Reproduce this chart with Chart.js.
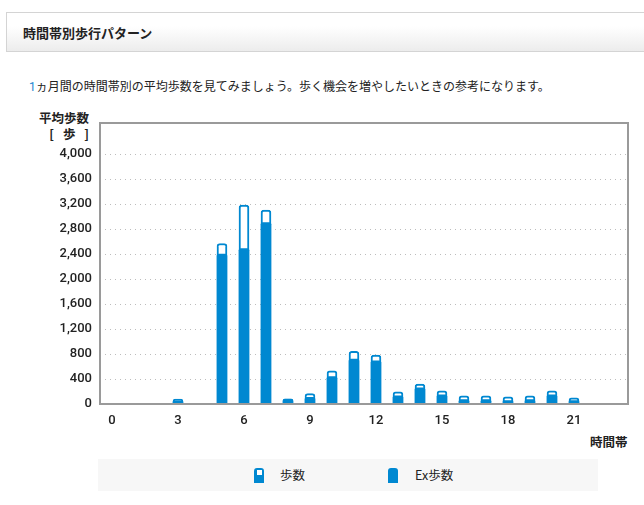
<!DOCTYPE html>
<html lang="ja">
<head>
<meta charset="utf-8">
<title>時間帯別歩行パターン</title>
<script src="https://cdn.jsdelivr.net/npm/chart.js@4.4.1/dist/chart.umd.min.js"></script>
<style>
  html, body { margin: 0; padding: 0; background: #fff; }
  body { width: 644px; height: 505px; position: relative; overflow: hidden;
         font-family: "Noto Sans CJK JP", "Noto Sans", sans-serif; color: #222; }
  .cabecera { position: absolute; left: 6px; top: 12px; width: 660px; height: 38px;
              border: 1px solid #d4d4d4; background: linear-gradient(#ffffff 35%, #ececec); }
  .cabecera h2 { margin: 0; position: absolute; left: 16px; top: 10px; font-size: 13px;
                 font-weight: bold; line-height: 20px; color: #222; }
  .descripcion { position: absolute; left: 29px; top: 77px; font-size: 12px; line-height: 18px; }
  .descripcion .num { color: #1c86d0; font-family: Roboto, sans-serif; }
  .tituloY { position: absolute; right: 555px; top: 110px; font-size: 12.5px; font-weight: bold;
             line-height: 16px; text-align: right; }
  .tituloY span { letter-spacing: 3px; }
  .tituloX { position: absolute; left: 590px; top: 432px; font-size: 12.5px; font-weight: bold; }
  .leyenda { position: absolute; left: 98px; top: 459px; width: 500px; height: 32px; background: #f7f7f7; }
  .item { position: absolute; top: 0; height: 32px; line-height: 32px; font-size: 12.5px; }
  .icono { position: absolute; top: 9px; width: 10px; height: 15px; background: #0088d1;
           border-radius: 3px 3px 0 0; }
  .icono.pasos::after { content: ""; position: absolute; left: 2.5px; top: 2px; width: 5px; height: 5px; background: #fff; }
  canvas { position: absolute; left: 0; top: 0; }
</style>
</head>
<body>
<div class="cabecera"><h2>時間帯別歩行パターン</h2></div>
<div class="descripcion"><span class="num">1</span>ヵ月間の時間帯別の平均歩数を見てみましょう。歩く機会を増やしたいときの参考になります。</div>
<div class="tituloY">平均歩数<br><span>[ 歩 </span>]</div>
<div class="tituloX">時間帯</div>
<div class="leyenda">
  <div class="icono pasos" style="left:156px"></div>
  <div class="item" style="left:182px">歩数</div>
  <div class="icono" style="left:290px"></div>
  <div class="item" style="left:317px">Ex歩数</div>
</div>
<canvas id="graficoPasos" width="644" height="505"></canvas>
<script>
// Datos por hora (0〜23時)
const horas = [0,1,2,3,4,5,6,7,8,9,10,11,12,13,14,15,16,17,18,19,20,21,22,23];
const pasos = [0,0,0,80,0,2570,3185,3105,80,165,530,845,785,195,320,210,130,130,115,130,210,100,0,0];     // 歩数
const pasosEx = [0,0,0,45,0,2400,2490,2905,78,105,440,720,690,130,260,145,70,70,55,70,145,55,0,0];    // Ex歩数
const ticksX = [0,3,6,9,12,15,18,21];
const ticksY = [0,400,800,1200,1600,2000,2400,2800,3200,3600,4000];

const azul = '#0088d1';
const fuenteTicks = { family: 'Roboto', size: 13, weight: '500' };

// Marco gris alrededor del área del gráfico
const marco = {
    id: 'marco',
    afterDatasetsDraw(chart) {
        const a = chart.chartArea;
        const ctx = chart.ctx;
        ctx.save();
        ctx.strokeStyle = '#9a9a9a';
        ctx.lineWidth = 2;
        ctx.strokeRect(a.left, a.top, a.right - a.left, a.bottom - a.top);
        ctx.restore();
    }
};

const ctx = document.getElementById('graficoPasos').getContext('2d');
new Chart(ctx, {
    type: 'bar',
    data: {
        labels: horas,
        datasets: [{
            label: '歩数',
            data: pasos,
            backgroundColor: '#ffffff',
            borderColor: azul,
            borderWidth: c => (c.raw > 0 ? 2 : 0),
            borderSkipped: false,
            borderRadius: { topLeft: 3, topRight: 3 },
            barThickness: 10,
            grouped: false,
            order: 2
        }, {
            label: 'Ex歩数',
            data: pasosEx,
            backgroundColor: azul,
            borderWidth: 0,
            borderRadius: { topLeft: 2, topRight: 2 },
            barThickness: 10,
            grouped: false,
            order: 1
        }]
    },
    options: {
        responsive: false,
        animation: false,
        layout: { padding: { left: 0, top: 123, right: 16, bottom: 0 } },
        plugins: { legend: { display: false }, tooltip: { enabled: false } },
        scales: {
            x: {
                type: 'linear',
                offset: false,
                min: -0.545,
                max: 23.455,
                afterBuildTicks: s => { s.ticks = ticksX.map(v => ({ value: v })); },
                afterFit: s => { s.height = 101; },
                grid: { display: false, drawTicks: false, offset: false },
                border: { display: false },
                ticks: { color: '#222', font: fuenteTicks, padding: 9, maxRotation: 0, autoSkip: false }
            },
            y: {
                min: 0,
                max: 4500,
                afterBuildTicks: s => { s.ticks = ticksY.map(v => ({ value: v })); },
                afterFit: s => { s.width = 100; },
                grid: { color: '#bdbdbd', lineWidth: 1, drawTicks: false },
                border: { display: false, dash: [1, 4] },
                ticks: {
                    color: '#222',
                    font: fuenteTicks,
                    padding: 8,
                    callback: v => v.toLocaleString('en-US')
                }
            }
        }
    },
    plugins: [marco]
});
</script>
</body>
</html>
